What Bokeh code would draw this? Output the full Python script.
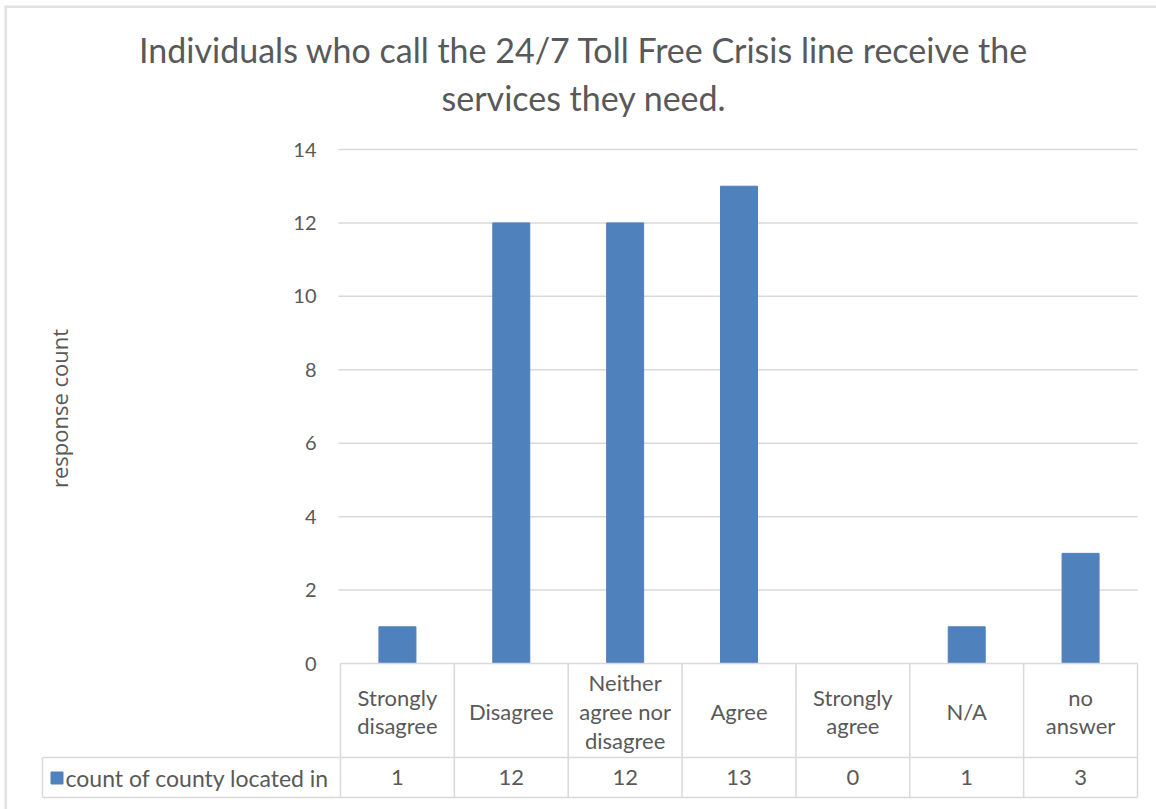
import numpy as np
from bokeh.plotting import figure
from bokeh.models import Range1d, LinearAxis, FixedTicker, BoxAnnotation
from bokeh.core.properties import value
from bokeh.embed import file_html
from bokeh.resources import INLINE

# ---------------- data ----------------
categories = ["Strongly\ndisagree", "Disagree", "Neither\nagree nor\ndisagree",
              "Agree", "Strongly\nagree", "N/A", "no\nanswer"]
counts = [1, 12, 12, 13, 0, 1, 3]
y_ticks = [0, 2, 4, 6, 8, 10, 12, 14]
series_name = "count of county located in"
title_lines = ["Individuals who call the 24/7 Toll Free Crisis line receive the",
               "services they need."]
y_label = "response count"

# ---------------- layout (pixels) ----------------
W, H = 1156, 809
FL, FT = 0, 0                  # frame left / top
X0, XN = 340, 1137             # plot area left / right
Y0, YMAX = 663, 149            # pixel rows of value 0 and of max tick
n = len(categories)
cw = (XN - X0) / n
uy = (Y0 - YMAX) / y_ticks[-1]


def xd(px):
    return (px - X0) / cw


def yd(py):
    return (Y0 - py) / uy


BAR = "#4f81bd"
TXT = "#595959"
GRID = "#d9d9d9"
FONT = value("Lato")

p = figure(width=W, height=H, output_backend="svg", toolbar_location=None,
           x_range=Range1d(xd(FL), xd(W)), y_range=Range1d(yd(H), yd(FT)),
           min_border_left=FL, min_border_right=0, min_border_top=FT,
           min_border_bottom=0, x_axis_location=None, y_axis_location=None)
p.grid.visible = False
p.outline_line_color = None
p.background_fill_color = "white"
p.border_fill_color = "white"

# y axis (labels drawn right of its anchor so that it needs no side panel)
yaxis = LinearAxis(ticker=FixedTicker(ticks=y_ticks), fixed_location=xd(290),
                   axis_line_color=None, major_tick_line_color=None,
                   minor_tick_line_color=None, major_label_standoff=-26,
                   major_tick_out=0, major_tick_in=0,
                   major_label_text_font="Lato", major_label_text_font_size="20px",
                   major_label_text_color=TXT)
p.add_layout(yaxis, "left")

# gridlines
gt = y_ticks[1:]
p.segment(x0=[xd(X0 - 2)] * len(gt), x1=[n] * len(gt), y0=gt, y1=gt,
          line_color=GRID, line_width=1.5)

# bars
xs = np.arange(n) + 0.5
p.vbar(x=xs, top=counts, bottom=0, width=0.325, fill_color=BAR, line_color=BAR)

# data table
yh = yd(757)
yb = yd(797)
xl = xd(42)
p.segment(x0=[0, xl, xl], x1=[n, n, n], y0=[0, yh, yb], y1=[0, yh, yb],
          line_color=GRID, line_width=1.5)
vx = list(range(n + 1))
p.segment(x0=vx + [xl], x1=vx + [xl], y0=[yb] * (n + 1) + [yb], y1=[0] * (n + 1) + [yh],
          line_color=GRID, line_width=1.5)

p.text(x=xs, y=[yd(711)] * n, text=categories, text_font=FONT, text_font_size="22px",
       text_color=TXT, text_align="center", text_baseline="middle", text_line_height=1.06)
p.text(x=xs, y=[yd(777)] * n, text=[str(c) for c in counts], text_font=FONT,
       text_font_size="22px", text_color=TXT, text_align="center", text_baseline="middle")
p.scatter(x=[xd(56.5)], y=[yd(777.5)], marker="square", size=12, fill_color=BAR,
          line_color=BAR)
p.text(x=[xd(65)], y=[yd(777)], text=[series_name], text_font=FONT, text_font_size="23px",
       text_color=TXT, text_align="left", text_baseline="middle")

# title and axis label
p.text(x=[xd(583.5)] * 2, y=[yd(49), yd(97)], text=title_lines, text_font=FONT,
       text_font_size="34px", text_color=TXT, text_align="center", text_baseline="middle")
p.text(x=[xd(58)], y=[yd(408)], text=[y_label], angle=np.pi / 2, text_font=value("Open Sans"),
       text_font_size="22px", text_color=TXT, text_align="center", text_baseline="middle")

# chart border (top and left)
p.add_layout(BoxAnnotation(left=xd(4), right=xd(6.5), bottom=yd(H), top=yd(5),
                           fill_color="#e2e2e2", fill_alpha=1, line_color=None))
p.add_layout(BoxAnnotation(left=xd(4), right=xd(W), bottom=yd(7.5), top=yd(5),
                           fill_color="#e2e2e2", fill_alpha=1, line_color=None))

open("out.html", "w").write(file_html(p, INLINE))
